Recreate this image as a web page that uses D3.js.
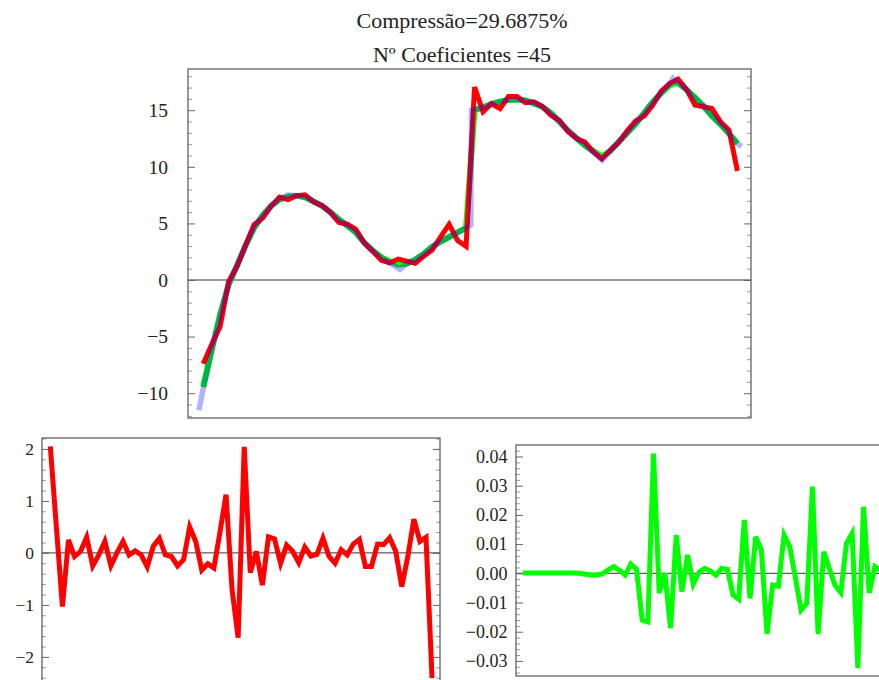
<!DOCTYPE html>
<html lang="pt">
<head>
<meta charset="UTF-8">
<title>Compressão</title>
<script src="https://cdn.jsdelivr.net/npm/d3@7"></script>
<style>
  body { margin: 0; background: #fff; }
  svg text { font-family: "Liberation Serif", "DejaVu Serif", serif; fill: #222; }
</style>
</head>
<body>
<div id="chart"></div>
<script>
// title
const titleLines = ["Compressão=29.6875%", "Nº Coeficientes =45"];

// original signal (fine knots: position in sample units, value)
const originalPos = [-0.5, 0, 1, 2, 3, 4, 5, 6, 7, 8, 9, 10, 11, 12, 13, 14, 15, 16, 17, 18, 19, 20, 21, 22, 23.2, 24, 25, 26, 27, 28, 29, 30, 31, 31.55, 31.65, 32, 33, 34, 35, 36, 37, 38, 39, 40, 41, 42, 43, 44, 45, 46, 47.06, 48, 49, 50, 51, 52, 53, 54, 55, 55.4, 56, 57, 58, 59, 60, 61, 62, 63, 63.5];
const original = [-11.5, -9.6, -6.2, -3.07, -0.4, 1.3, 3.05, 4.6, 5.7, 6.55, 7.15, 7.5, 7.45, 7.3, 6.95, 6.55, 6.0, 5.35, 4.8, 4.2, 3.3, 2.6, 2.0, 1.5, 0.95, 1.45, 1.8, 2.3, 2.95, 3.4, 3.8, 4.2, 4.6, 4.85, 15.0, 15.05, 15.25, 15.55, 15.75, 15.9, 15.95, 15.86, 15.6, 15.3, 14.75, 14.0, 13.2, 12.55, 11.9, 11.3, 10.6, 11.4, 12.2, 13.0, 13.8, 14.75, 15.7, 16.5, 17.3, 17.8, 17.4, 16.8, 16.1, 15.37, 14.5, 13.76, 12.95, 12.05, 11.8];

// reconstruction with 45 coefficients (green) and the noisy version (red), 64 samples
const reconstructed = [-9.45, -6.2, -3.07, -0.4, 1.3, 3.05, 4.6, 5.7, 6.55, 7.1, 7.35, 7.45, 7.3, 6.95, 6.55, 6.0, 5.35, 4.8, 4.2, 3.3, 2.6, 2.0, 1.65, 1.35, 1.45, 1.8, 2.3, 2.95, 3.4, 3.8, 4.2, 4.6, 15.0, 15.25, 15.55, 15.75, 15.9, 15.95, 15.86, 15.6, 15.3, 14.75, 14.0, 13.2, 12.55, 11.9, 11.4, 10.9, 11.4, 12.2, 13.0, 13.8, 14.75, 15.7, 16.5, 17.2, 17.45, 16.8, 16.1, 15.37, 14.5, 13.76, 12.95, 12.05];
const noisy = [-7.40, -5.70, -4.10, -0.15, 1.23, 3.08, 4.90, 5.45, 6.51, 7.32, 7.10, 7.45, 7.52, 6.91, 6.59, 5.96, 5.08, 4.93, 4.48, 3.26, 2.53, 1.75, 1.52, 1.85, 1.67, 1.47, 2.09, 2.66, 3.80, 4.92, 3.49, 2.97, 17.04, 14.87, 15.58, 15.13, 16.21, 16.22, 15.66, 15.75, 15.33, 14.56, 14.11, 13.14, 12.52, 12.18, 11.33, 10.70, 11.46, 12.16, 13.17, 14.06, 14.49, 15.44, 16.67, 17.36, 17.74, 16.83, 15.45, 15.30, 15.15, 13.98, 13.25, 9.64];

// errors
const errNoisy = [2.05, 0.5, -1.03, 0.25, -0.07, 0.03, 0.3, -0.25, -0.04, 0.22, -0.25, 0.0, 0.22, -0.04, 0.04, -0.04, -0.27, 0.13, 0.28, -0.04, -0.07, -0.25, -0.13, 0.5, 0.22, -0.33, -0.21, -0.29, 0.4, 1.12, -0.71, -1.63, 2.04, -0.38, 0.03, -0.62, 0.31, 0.27, -0.2, 0.15, 0.03, -0.19, 0.11, -0.06, -0.03, 0.28, -0.07, -0.2, 0.06, -0.04, 0.17, 0.26, -0.26, -0.26, 0.17, 0.16, 0.29, 0.03, -0.65, -0.07, 0.65, 0.22, 0.3, -2.41];
const errReconstructed = [0.0001, 0.0001, 0.0001, 0.0001, 0.0001, 0.0001, 0.0001, 0.0001, 0.0001, 0.0001, 0.0000, -0.0003, -0.0006, -0.0006, -0.0002, 0.0012, 0.0023, 0.0010, -0.0006, 0.0032, 0.0014, -0.0160, -0.0166, 0.0410, -0.0068, 0.0000, -0.0188, 0.0131, -0.0063, 0.0063, -0.0037, 0.0003, 0.0017, 0.0008, -0.0006, 0.0017, 0.0014, -0.0074, -0.0089, 0.0183, -0.0086, 0.0125, 0.0080, -0.0208, -0.0040, -0.0044, 0.0131, 0.0091, -0.0015, -0.0126, -0.0103, 0.0297, -0.0208, 0.0074, 0.0015, -0.0042, -0.0066, 0.0103, 0.0137, -0.0325, 0.0228, -0.0067, 0.0023, 0.0010];

// tick labels
const topTicks = [-10, -5, 0, 5, 10, 15];
const leftTicks = [-2, -1, 0, 1, 2];
const rightTicks = [-0.03, -0.02, -0.01, 0, 0.01, 0.02, 0.03, 0.04];

const svg = d3.select("#chart").append("svg")
    .attr("width", 879)
    .attr("height", 680);

// draw one framed panel with ticks on left and right
function panel(o) {
    const x = d3.scaleLinear().domain(o.xd).range([o.left, o.right]);
    const y = d3.scaleLinear().domain(o.yd).range([o.bottom, o.top]);
    const g = svg.append("g");

    // zero axis
    g.append("line")
        .attr("x1", o.left).attr("x2", o.right)
        .attr("y1", y(0)).attr("y2", y(0))
        .attr("stroke", "#333").attr("stroke-width", 1);

    const minor = d3.range(o.yd[0], o.yd[1], o.minorStep / 10)
        .map(v => Math.round(v / o.minorStep) * o.minorStep)
        .filter((v, i, a) => a.indexOf(v) === i)
        .filter(v => v >= o.yd[0] && v <= o.yd[1])
        .filter(v => !o.major.some(m => Math.abs(m - v) < o.minorStep / 10));

    // minor + major ticks, labels only on the left
    [["L", o.left], ["R", o.right]].forEach(([side, px]) => {
        const ax = side === "L" ? d3.axisLeft(y) : d3.axisRight(y);
        g.append("g")
            .attr("transform", `translate(${px},0)`)
            .call(ax.tickValues(minor).tickSize(-4).tickFormat(""))
            .call(s => s.select(".domain").remove())
            .selectAll("line").attr("stroke", "#999");
        const axM = side === "L" ? d3.axisLeft(y) : d3.axisRight(y);
        const gm = g.append("g")
            .attr("transform", `translate(${px},0)`)
            .call(axM.tickValues(o.major).tickSize(-7).tickPadding(o.gap)
                .tickFormat(side === "L" ? o.fmt : ""))
            .call(s => s.select(".domain").remove());
        gm.selectAll("line").attr("stroke", "#666");
        gm.attr("font-family", null).attr("font-size", null);
        gm.selectAll("text")
            .style("font-size", o.fontSize + "px")
            .attr("fill", "#222");
    });

    // frame
    g.append("rect")
        .attr("x", o.left).attr("y", o.top)
        .attr("width", o.right - o.left).attr("height", o.bottom - o.top)
        .attr("fill", "none").attr("stroke", "#555").attr("stroke-width", 1.2);

    return { x, y, g };
}

// top panel
const p1 = panel({
    left: 188, right: 751, top: 69, bottom: 418,
    xd: [-1.792, 64.6], yd: [-12.19, 18.64],
    major: topTicks, minorStep: 1, fmt: d3.format("d"), fontSize: 19.5, gap: 20
});
const lineTop = d3.line().x((d, i) => p1.x(i)).y(d => p1.y(d));
p1.g.append("path").datum(reconstructed)
    .attr("d", lineTop).attr("fill", "none")
    .attr("stroke", "#00ff00").attr("stroke-width", 6);
p1.g.append("path").datum(noisy)
    .attr("d", lineTop).attr("fill", "none")
    .attr("stroke", "#ff0000").attr("stroke-width", 5);
p1.g.append("path").datum(d3.zip(originalPos, original))
    .attr("d", d3.line().x(d => p1.x(d[0])).y(d => p1.y(d[1])))
    .attr("fill", "none")
    .attr("stroke", "#0000ff").attr("stroke-opacity", 0.3).attr("stroke-width", 5.5);

// bottom left: error of noisy signal
const p2 = panel({
    left: 42, right: 440, top: 438, bottom: 686,
    xd: [-1.37, 64.31], yd: [-2.56, 2.21],
    major: leftTicks, minorStep: 0.2, fmt: d3.format("d"), fontSize: 17.5, gap: 8
});
p2.g.append("path").datum(errNoisy)
    .attr("d", d3.line().x((d, i) => p2.x(i)).y(d => p2.y(d)))
    .attr("fill", "none").attr("stroke", "#ff0000").attr("stroke-width", 5);

// bottom right: reconstruction error
const p3 = panel({
    left: 516, right: 886, top: 445, bottom: 676,
    xd: [-1.233, 63.96], yd: [-0.03517, 0.04394],
    major: rightTicks, minorStep: 0.002, fmt: d3.format(".2f"), fontSize: 18, gap: 8.5
});
p3.g.append("path").datum(errReconstructed)
    .attr("d", d3.line().x((d, i) => p3.x(i)).y(d => p3.y(d)))
    .attr("fill", "none").attr("stroke", "#00ff00").attr("stroke-width", 5);

// title
svg.append("g").selectAll("text")
    .data(titleLines)
    .join("text")
    .attr("x", 462)
    .attr("y", (d, i) => 28 + i * 34)
    .attr("text-anchor", "middle")
    .style("font-size", "22px")
    .text(d => d);
</script>
</body>
</html>
